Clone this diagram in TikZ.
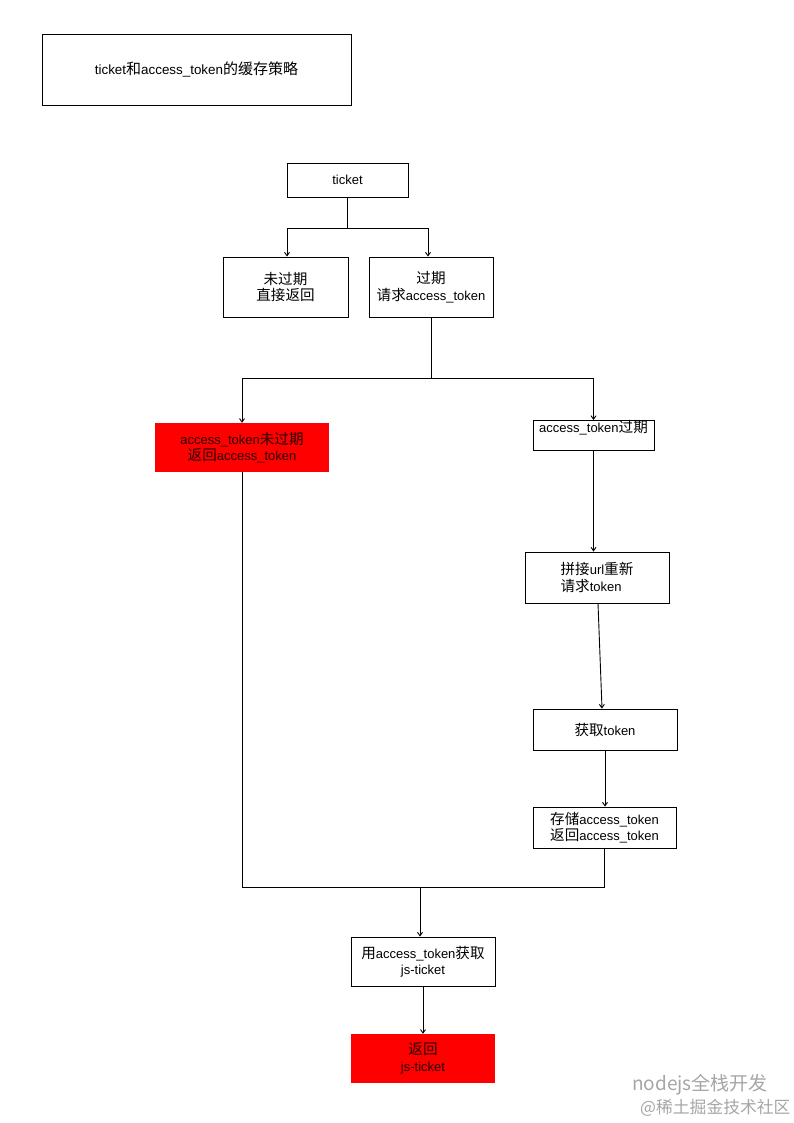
\documentclass[tikz,border=0pt]{standalone}
\usepackage{fontspec}
\setmainfont{Liberation Sans}
\newfontfamily\cjk{Noto Sans CJK SC}[Scale=1.12]
\usetikzlibrary{arrows.meta}
\newcommand{\zh}[1]{{\cjk #1}}
\begin{document}
\begin{tikzpicture}[x=1pt,y=-1pt,
  font=\fontsize{13}{16.5}\selectfont,
  box/.style={draw=black, line width=0.9pt, inner sep=0pt, align=center},
  redbox/.style={fill=red, inner sep=0pt, align=center, text=black!85!red},
  conn/.style={line width=0.9pt},
  arr/.style={line width=0.9pt, -{Straight Barb[length=3.5pt,width=5pt]}},
  wm/.style={text=black!35, inner sep=0pt}]
\useasboundingbox (0,0) rectangle (794,1123);
\fill[white] (0,0) rectangle (794,1123);

\node[box, minimum width=309pt, minimum height=71pt] (title) at (196.5,69.5) {\fontsize{13.4}{16}\selectfont ticket\zh{和}access\_token\zh{的缓存策略}};

\node[box, minimum width=121pt, minimum height=34pt] (ticket) at (347.5,180) {ticket};
\node[box, minimum width=125pt, minimum height=60pt] (nexp) at (285.5,287) {\zh{未过期}\\\zh{直接返回}};
\node[box, minimum width=124pt, minimum height=60pt] (exp) at (431,287) {\zh{过期}\\\zh{请求}access\_token};

\node[redbox, minimum width=174pt, minimum height=49pt] (red1) at (242,447.5) {access\_token\zh{未过期}\\\zh{返回}access\_token};
\node[box, anchor=north, minimum width=121pt, inner ysep=2pt, text height=10pt, text depth=16pt] (atexp) at (593.5,420) {access\_token\zh{过期}};

\node[box, minimum width=144pt, minimum height=51pt, align=left] (pinjie) at (597,577.5) {\zh{拼接}url\zh{重新}\\\zh{请求}token};
\node[box, minimum width=144pt, minimum height=41pt] (huoqu) at (605,729.5) {\zh{获取}token};
\node[box, minimum width=143pt, minimum height=41pt] (cunchu) at (604.5,827.5) {\zh{存储}access\_token\\\zh{返回}access\_token};

\node[box, minimum width=144pt, minimum height=49pt] (yong) at (423,961.5) {\zh{用}access\_token\zh{获取}\\js-ticket};
\node[redbox, minimum width=144pt, minimum height=49pt] (ret) at (423,1058.5) {\zh{返回}\\js-ticket};

% connectors
\coordinate (j1) at (ticket.south |- 0,228);
\draw[conn] (ticket.south) -- (j1);
\draw[arr] (j1) -| ([xshift=1.5pt]nexp.north);
\draw[arr] (j1) -| ([xshift=-3pt]exp.north);

\coordinate (j2) at (exp.south |- 0,378);
\draw[conn] (exp.south) -- (j2);
\draw[arr] (j2) -| (red1.north);
\draw[arr] (j2) -| (atexp.north);

\draw[arr] (atexp.south) -- (atexp.south |- pinjie.north);
\draw[arr] ([xshift=1pt]pinjie.south) -- ([xshift=-3pt]huoqu.north);
\draw[arr] (huoqu.south) -- (huoqu.south |- cunchu.north);

\coordinate (j3) at (cunchu.south |- 0,887);
\draw[conn] (red1.south) |- (j3) -- (cunchu.south);
\coordinate (j4) at (420,887);
\draw[arr] (j4) -- (j4 |- yong.north);
\draw[arr] (yong.south) -- (yong.south |- ret.north);

% watermark
\node[wm, anchor=west, font=\cjk\fontsize{17}{17}\selectfont] (wm1) at (632,1085) {nodejs全栈开发};
\node[wm, anchor=west, font=\cjk\fontsize{15}{15}\selectfont] (wm2) at (640,1108) {@稀土掘金技术社区};
\end{tikzpicture}
\end{document}
